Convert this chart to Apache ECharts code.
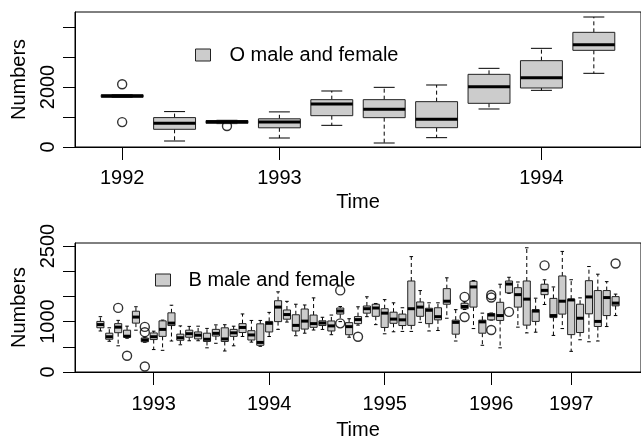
<!DOCTYPE html>
<html>
<head>
<meta charset="utf-8">
<script src="https://cdn.jsdelivr.net/npm/echarts@6/dist/echarts.min.js"></script>
<style>html,body{margin:0;padding:0;background:#fff}#c{width:641px;height:441px}</style>
</head>
<body>
<div id="c"></div>
<script>
// ---------- Top panel: O male and female ----------
var topLow    = [1650, 200, 780, 300, 722, 133, 311, 1267, 1889, 2456];
var topQ1     = [1660, 590, 790, 640, 1044, 978, 644, 1456, 1967, 3222];
var topMedian = [1700, 790, 840, 830, 1433, 1256, 922, 2011, 2311, 3411];
var topQ3     = [1740, 980, 880, 940, 1578, 1578, 1511, 2422, 2878, 3822];
var topHigh   = [1750, 1180, 890, 1170, 1867, 1989, 2067, 2622, 3289, 4333];
var topOutIdx = [0, 0, 2];
var topOutVal = [2090, 830, 700];
var topTickPos = [0, 3, 8];
var topTickLabels = ['1992', '1993', '1994'];
var topYTicks = [0, 1000, 2000, 3000, 4000];
var topYLabels = [0, 2000];

// ---------- Bottom panel: B male and female ----------
var botLow = [814, 610, 520, 670, 830, 590, 445, 430, 615, 540,
  620, 620, 480, 570, 417, 520, 705, 593, 510, 704,
  846, 991, 720, 770, 833, 845, 740, 1000, 690, 930,
  1098, 940, 758, 798, 805, 805, 985, 814, 823, 1067,
  615, 1240, 862, 530, 1030, 480, 1560, 890, 776, 790,
  1340, 726, 862, 410, 640, 600, 615, 902, 1120];
var botQ1 = [878, 650, 780, 690, 970, 600, 644, 707, 922, 630,
  690, 657, 606, 713, 606, 707, 783, 635, 530, 795,
  1000, 1048, 814, 852, 887, 922, 814, 1150, 740, 960,
  1168, 1105, 884, 966, 922, 925, 1105, 960, 1035, 1345,
  751, 1256, 1288, 770, 1035, 1023, 1572, 1288, 930, 1004,
  1535, 1080, 1149, 742, 783, 1155, 903, 1120, 1313];
var botMedian = [941, 700, 890, 710, 1090, 635, 700, 846, 970, 680,
  760, 730, 650, 767, 656, 777, 884, 735, 587, 966,
  1288, 1140, 925, 1010, 960, 972, 915, 1210, 900, 1040,
  1256, 1270, 1168, 1050, 1035, 1256, 1288, 1225, 1098, 1405,
  985, 1300, 1688, 995, 1130, 1120, 1745, 1535, 1446, 1209,
  1620, 1120, 1405, 1430, 1067, 1490, 1004, 1477, 1367];
var botQ3 = [1004, 770, 960, 830, 1206, 675, 775, 1015, 1174, 751,
  830, 795, 770, 846, 877, 846, 960, 820, 956, 1004,
  1414, 1231, 1136, 1250, 1130, 1016, 1013, 1270, 980, 1100,
  1310, 1345, 1256, 1187, 1149, 1806, 1390, 1265, 1275, 1654,
  1029, 1364, 1800, 1029, 1162, 1383, 1806, 1673, 1806, 1237,
  1742, 1461, 1906, 1446, 1345, 1812, 1616, 1616, 1496];
var botHigh = [1098, 877, 1025, 910, 1295, 690, 810, 1030, 1325, 915,
  905, 909, 865, 935, 938, 909, 1152, 1023, 1023, 1183,
  1591, 1402, 1345, 1330, 1471, 1086, 1130, 1300, 1057, 1294,
  1493, 1360, 1436, 1373, 1275, 2290, 1616, 1373, 1373, 1869,
  1237, 1390, 1815, 1168, 1170, 1742, 1880, 1786, 2465, 1465,
  1830, 1688, 2393, 1831, 1471, 2093, 1941, 1793, 1546];
var botOutIdx = [2, 3, 5, 5, 5, 27, 27, 29, 41, 41, 44, 44, 44, 46, 50, 58];
var botOutVal = [1272, 322, 895, 790, 110, 1619, 965, 700, 1490, 1092, 1528, 1477, 833, 1193, 2115, 2153];
var botTickPos = [6, 19, 32, 44, 53];
var botTickLabels = ['1993', '1994', '1995', '1996', '1997'];
var botYTicks = [0, 500, 1000, 1500, 2000, 2500];
var botYLabels = [0, 1000, 2500];

var FONT = 'Liberation Sans, Arial, Helvetica, sans-serif';
var BOXFILL = '#cccccc';

function zipBoxes(lo, q1, md, q3, hi) {
  var out = [];
  for (var i = 0; i < lo.length; i++) out.push([i, lo[i], q1[i], md[i], q3[i], hi[i]]);
  return out;
}
function zipPts(idx, val) {
  var out = [];
  for (var i = 0; i < idx.length; i++) out.push([idx[i], val[i]]);
  return out;
}

function renderBox(params, api) {
  var x = api.value(0);
  var pLo = api.coord([x, api.value(1)]);
  var pQ1 = api.coord([x, api.value(2)]);
  var pMd = api.coord([x, api.value(3)]);
  var pQ3 = api.coord([x, api.value(4)]);
  var pHi = api.coord([x, api.value(5)]);
  var unit = api.size([1, 0])[0];
  var bw = unit * 0.8, cw = unit * 0.4;
  var cx = pLo[0];
  var blk = '#000';
  return {
    type: 'group',
    children: [
      { type: 'line', shape: { x1: cx, y1: pQ3[1], x2: cx, y2: pHi[1] }, style: { stroke: blk, lineWidth: 1, lineDash: [4, 3] } },
      { type: 'line', shape: { x1: cx, y1: pQ1[1], x2: cx, y2: pLo[1] }, style: { stroke: blk, lineWidth: 1, lineDash: [4, 3] } },
      { type: 'line', shape: { x1: cx - cw / 2, y1: pHi[1], x2: cx + cw / 2, y2: pHi[1] }, style: { stroke: blk, lineWidth: 1 } },
      { type: 'line', shape: { x1: cx - cw / 2, y1: pLo[1], x2: cx + cw / 2, y2: pLo[1] }, style: { stroke: blk, lineWidth: 1 } },
      { type: 'rect', shape: { x: cx - bw / 2, y: pQ3[1], width: bw, height: pQ1[1] - pQ3[1] }, style: { fill: BOXFILL, stroke: '#222', lineWidth: 1 } },
      { type: 'line', shape: { x1: cx - bw / 2, y1: pMd[1], x2: cx + bw / 2, y2: pMd[1] }, style: { stroke: blk, lineWidth: 3 } }
    ]
  };
}

function xAxisCfg(gi, min, max, pos, labels, margin, gap) {
  return {
    type: 'value', gridIndex: gi, min: min, max: max,
    name: 'Time', nameLocation: 'middle', nameGap: gap,
    nameTextStyle: { fontFamily: FONT, fontSize: 20, color: '#000' },
    axisLine: { show: true, onZero: false, lineStyle: { color: '#000', width: 1 } },
    axisTick: { show: true, length: 13, customValues: pos, lineStyle: { color: '#000' } },
    axisLabel: {
      show: true, customValues: pos, margin: margin,
      fontFamily: FONT, fontSize: 20, color: '#000',
      formatter: function (v) { var i = pos.indexOf(v); return i >= 0 ? labels[i] : ''; }
    },
    splitLine: { show: false }
  };
}
function yAxisCfg(gi, max, ticks, labels) {
  return {
    type: 'value', gridIndex: gi, min: 0, max: max,
    name: 'Numbers', nameLocation: 'middle', nameGap: 46, nameRotate: 90,
    nameTextStyle: { fontFamily: FONT, fontSize: 20, color: '#000' },
    axisLine: { show: true, onZero: false, lineStyle: { color: '#000', width: 1 } },
    axisTick: { show: true, length: 12, customValues: ticks, lineStyle: { color: '#000' } },
    axisLabel: {
      show: true, customValues: labels, rotate: 90, margin: 17,
      fontFamily: FONT, fontSize: 20, color: '#000',
      formatter: function (v) { return String(v); }
    },
    splitLine: { show: false }
  };
}

var chart = echarts.init(document.getElementById('c'), null, { renderer: 'canvas' });
chart.setOption({
  backgroundColor: '#fff',
  animation: false,
  grid: [
    { left: 75, top: 12, width: 575, height: 135, show: true, borderColor: '#000', borderWidth: 1, backgroundColor: 'transparent' },
    { left: 75, top: 243, width: 575, height: 135, show: true, borderColor: '#000', borderWidth: 1, backgroundColor: 'transparent' }
  ],
  xAxis: [
    xAxisCfg(0, -0.9, 9.9, topTickPos, topTickLabels, 21, 45),
    xAxisCfg(1, -2.86, 60.86, botTickPos, botTickLabels, 22, 48)
  ],
  yAxis: [
    yAxisCfg(0, 4500, topYTicks, topYLabels),
    yAxisCfg(1, 2560, botYTicks, botYLabels)
  ],
  legend: [
    {
      left: 195, top: 45, padding: 0, itemWidth: 15, itemHeight: 12,
      selectedMode: false,
      textStyle: { fontFamily: FONT, fontSize: 20, color: '#000', padding: [0, 0, 0, 14] },
      data: [{ name: 'O male and female', icon: 'rect', itemStyle: { color: BOXFILL, borderColor: '#222', borderWidth: 1 } }]
    },
    {
      left: 155, top: 270, padding: 0, itemWidth: 15, itemHeight: 12,
      selectedMode: false,
      textStyle: { fontFamily: FONT, fontSize: 20, color: '#000', padding: [0, 0, 0, 13] },
      data: [{ name: 'B male and female', icon: 'rect', itemStyle: { color: BOXFILL, borderColor: '#222', borderWidth: 1 } }]
    }
  ],
  series: [
    {
      name: 'O male and female', type: 'custom', xAxisIndex: 0, yAxisIndex: 0,
      itemStyle: { color: BOXFILL },
      renderItem: renderBox, encode: { x: 0, y: [1, 2, 3, 4, 5] },
      data: zipBoxes(topLow, topQ1, topMedian, topQ3, topHigh), z: 3
    },
    {
      name: 'O outliers', type: 'scatter', xAxisIndex: 0, yAxisIndex: 0,
      symbol: 'circle', symbolSize: 9,
      itemStyle: { color: 'rgba(0,0,0,0)', borderColor: '#000', borderWidth: 1.4 },
      data: zipPts(topOutIdx, topOutVal), z: 4
    },
    {
      name: 'B male and female', type: 'custom', xAxisIndex: 1, yAxisIndex: 1,
      itemStyle: { color: BOXFILL },
      renderItem: renderBox, encode: { x: 0, y: [1, 2, 3, 4, 5] },
      data: zipBoxes(botLow, botQ1, botMedian, botQ3, botHigh), z: 3
    },
    {
      name: 'B outliers', type: 'scatter', xAxisIndex: 1, yAxisIndex: 1,
      symbol: 'circle', symbolSize: 9,
      itemStyle: { color: 'rgba(0,0,0,0)', borderColor: '#000', borderWidth: 1.4 },
      data: zipPts(botOutIdx, botOutVal), z: 4
    }
  ]
});
</script>
</body>
</html>
